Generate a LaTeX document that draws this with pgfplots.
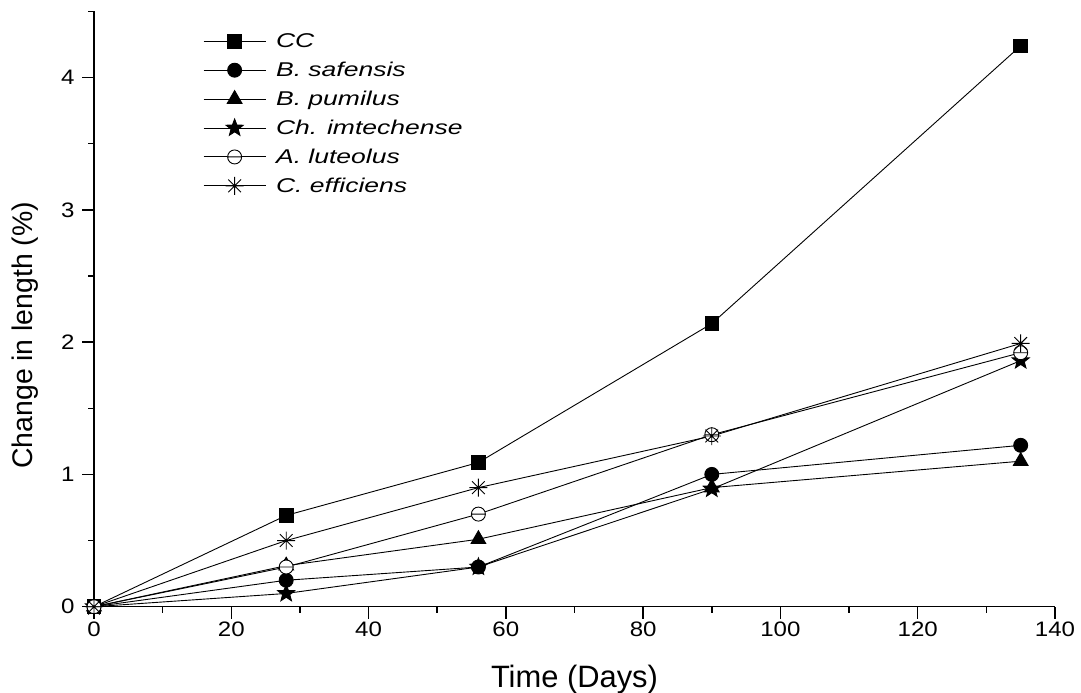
\documentclass[border=0pt]{standalone}
\usepackage{fontspec}
\setmainfont{Liberation Sans}
\usepackage{graphicx}
\usepackage{pgfplots}
\pgfplotsset{compat=1.18}
\usetikzlibrary{plotmarks}

% wide italic legend text, set a little apart from its sample line
\newcommand{\wide}[1]{\hspace*{8bp}\scalebox{1.33}[1]{#1}}

% filled five-pointed star
\pgfdeclareplotmark{fstar}{%
  \pgfpathmoveto{\pgfpointpolar{90}{\pgfplotmarksize}}%
  \pgfpathlineto{\pgfpointpolar{126}{0.42\pgfplotmarksize}}%
  \pgfpathlineto{\pgfpointpolar{162}{\pgfplotmarksize}}%
  \pgfpathlineto{\pgfpointpolar{198}{0.42\pgfplotmarksize}}%
  \pgfpathlineto{\pgfpointpolar{234}{\pgfplotmarksize}}%
  \pgfpathlineto{\pgfpointpolar{270}{0.42\pgfplotmarksize}}%
  \pgfpathlineto{\pgfpointpolar{306}{\pgfplotmarksize}}%
  \pgfpathlineto{\pgfpointpolar{342}{0.42\pgfplotmarksize}}%
  \pgfpathlineto{\pgfpointpolar{18}{\pgfplotmarksize}}%
  \pgfpathlineto{\pgfpointpolar{54}{0.42\pgfplotmarksize}}%
  \pgfpathclose\pgfusepathqfillstroke}
% open circle with a horizontal bar
\pgfdeclareplotmark{ominus}{%
  \pgfpathcircle{\pgfpointorigin}{\pgfplotmarksize}%
  \pgfpathmoveto{\pgfqpoint{-\pgfplotmarksize}{0pt}}%
  \pgfpathlineto{\pgfqpoint{\pgfplotmarksize}{0pt}}%
  \pgfusepathqfillstroke}
% eight-ray asterisk
\pgfdeclareplotmark{ast8}{%
  \pgfpathmoveto{\pgfqpoint{-\pgfplotmarksize}{0pt}}%
  \pgfpathlineto{\pgfqpoint{\pgfplotmarksize}{0pt}}%
  \pgfpathmoveto{\pgfqpoint{0pt}{-\pgfplotmarksize}}%
  \pgfpathlineto{\pgfqpoint{0pt}{\pgfplotmarksize}}%
  \pgfpathmoveto{\pgfpointpolar{45}{\pgfplotmarksize}}%
  \pgfpathlineto{\pgfpointpolar{225}{\pgfplotmarksize}}%
  \pgfpathmoveto{\pgfpointpolar{135}{\pgfplotmarksize}}%
  \pgfpathlineto{\pgfpointpolar{315}{\pgfplotmarksize}}%
  \pgfusepathqstroke}

\begin{document}
\begin{tikzpicture}
\path[use as bounding box] (0,0) rectangle (1081bp,693bp);
\begin{axis}[
  at={(94bp,86.3bp)}, anchor=south west,
  scale only axis, width=961bp, height=595.3bp,
  xmin=0, xmax=140, ymin=0, ymax=4.5,
  axis x line*=bottom, axis y line*=left,
  axis line style={-, line width=1.5bp},
  xtick={0,20,...,140}, ytick={0,1,2,3,4},
  minor xtick={10,30,...,130}, minor ytick={0.5,1.5,2.5,3.5,4.5},
  tick align=outside,
  major tick length=12bp, minor tick length=6bp,
  every tick/.style={black, line width=1.5bp},
  /pgf/number format/assume math mode=true,
  ticklabel style={font=\fontsize{21}{25}\selectfont},
  yticklabel style={xshift=-4bp},
  xticklabel={\scalebox{1.15}[1]{\pgfmathprintnumber{\tick}}},
  yticklabel={\scalebox{1.15}[1]{\pgfmathprintnumber{\tick}}},
  xlabel={Time (Days)}, ylabel={Change in length (\%)},
  xlabel style={font=\fontsize{31}{36}\selectfont,
    at={(axis description cs:0.5,-0.135)}, anchor=base},
  ylabel style={font=\fontsize{28.5}{34}\selectfont,
    at={(axis description cs:-0.0645,0.456)}, anchor=base},
  legend cell align=left,
  legend style={draw=none, fill=none, at={(axis description cs:0.1134,0.966)},
    anchor=north west, font=\itshape\fontsize{20}{24}\selectfont,
    row sep=9bp, inner sep=0pt},
  legend image code/.code={\draw[mark repeat=2,mark phase=2,#1]
    plot coordinates {(0bp,0bp) (31bp,0bp) (62bp,0bp)};},
  every axis plot/.append style={black, line width=0.9bp},
]
\addplot[mark=square*, mark size=6.8bp, mark options={fill=black}]
  coordinates {(0,0) (28,0.69) (56,1.09) (90,2.14) (135,4.24)};
\addlegendentry{\wide{CC}}
\addplot[mark=*, mark size=7bp, mark options={fill=black}]
  coordinates {(0,0) (28,0.20) (56,0.30) (90,1.00) (135,1.22)};
\addlegendentry{\wide{B. safensis}}
\addplot[mark=triangle*, mark size=8.5bp, mark options={fill=black}]
  coordinates {(0,0) (28,0.31) (56,0.51) (90,0.90) (135,1.10)};
\addlegendentry{\wide{B. pumilus}}
\addplot[mark=fstar, mark size=9bp, mark options={fill=black}]
  coordinates {(0,0) (28,0.10) (56,0.30) (90,0.89) (135,1.86)};
\addlegendentry{\wide{Ch. imtechense}}
\addplot[mark=ominus, mark size=7bp, mark options={fill=white}]
  coordinates {(0,0) (28,0.30) (56,0.70) (90,1.30) (135,1.92)};
\addlegendentry{\wide{A. luteolus}}
\addplot[mark=ast8, mark size=9bp]
  coordinates {(0,0) (28,0.50) (56,0.90) (90,1.29) (135,1.99)};
\addlegendentry{\wide{C. efficiens}}
\end{axis}
\end{tikzpicture}
\end{document}
